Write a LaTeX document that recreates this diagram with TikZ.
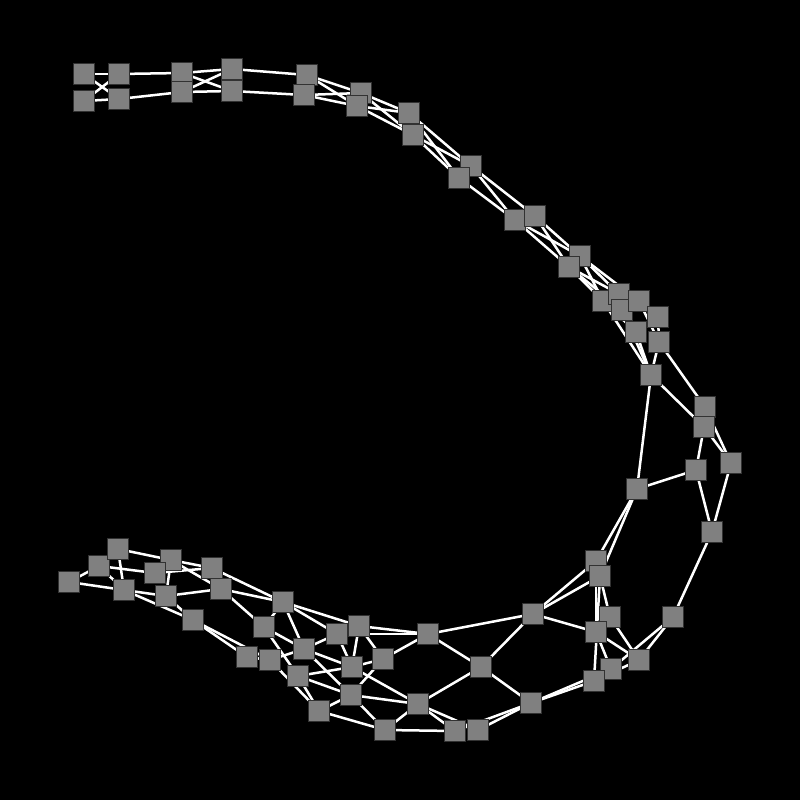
\documentclass[tikz,border=0pt]{standalone}
\usetikzlibrary{backgrounds}
\begin{document}
\begin{tikzpicture}[x=1pt,y=-1pt,
  box/.style={rectangle,fill={rgb,255:red,128;green,128;blue,128},draw={rgb,255:red,50;green,50;blue,50},line width=0.7pt,minimum size=20.5pt,inner sep=0pt,outer sep=0pt},
  edge/.style={draw=white,line width=2.5pt}]
\useasboundingbox (0,0) rectangle (800,800);
% top chain
\node[box] (t1) at (84,74) {};
\node[box] (t2) at (84,101) {};
\node[box] (t3) at (119,74) {};
\node[box] (t4) at (119,99) {};
\node[box] (t5) at (182,73) {};
\node[box] (t6) at (182,92) {};
\node[box] (t7) at (232,69) {};
\node[box] (t8) at (232,91) {};
\node[box] (t9) at (307,75) {};
\node[box] (t10) at (304,95) {};
\node[box] (t11) at (361,93) {};
\node[box] (t12) at (357,106) {};
\node[box] (t13) at (409,113) {};
\node[box] (t14) at (413,135) {};
\node[box] (t15) at (471,166) {};
\node[box] (t16) at (459,178) {};
\node[box] (t17) at (515,220) {};
\node[box] (t18) at (535,216) {};
\node[box] (t19) at (580,256) {};
\node[box] (t20) at (569,267) {};
% right cluster
\node[box] (A) at (603,301) {};
\node[box] (B) at (619,294) {};
\node[box] (C) at (622,310) {};
\node[box] (D) at (639,301) {};
\node[box] (E) at (658,317) {};
\node[box] (F) at (636,332) {};
\node[box] (G) at (659,342) {};
\node[box] (H) at (651,375) {};
\node[box] (I) at (705,407) {};
\node[box] (J) at (704,427) {};
\node[box] (K) at (731,463) {};
\node[box] (L) at (696,470) {};
\node[box] (M) at (637,489) {};
\node[box] (N) at (712,532) {};
% lower right
\node[box] (P) at (596,561) {};
\node[box] (Q) at (600,576) {};
\node[box] (R) at (533,614) {};
\node[box] (S) at (610,617) {};
\node[box] (U) at (596,632) {};
\node[box] (O) at (673,617) {};
\node[box] (X) at (428,634) {};
\node[box] (Y) at (481,667) {};
\node[box] (W) at (639,660) {};
\node[box] (V) at (611,669) {};
\node[box] (T) at (594,681) {};
\node[box] (AA) at (531,703) {};
\node[box] (Z) at (418,704) {};
\node[box] (AC) at (455,731) {};
\node[box] (AB) at (478,730) {};
% lower left
\node[box] (a1) at (69,582) {};
\node[box] (a2) at (99,566) {};
\node[box] (a3) at (118,549) {};
\node[box] (a4) at (124,590) {};
\node[box] (a5) at (171,560) {};
\node[box] (a6) at (155,573) {};
\node[box] (a7) at (166,596) {};
\node[box] (a8) at (212,568) {};
\node[box] (a9) at (221,589) {};
\node[box] (a10) at (193,620) {};
\node[box] (a11) at (283,602) {};
\node[box] (a12) at (264,627) {};
\node[box] (a13) at (247,657) {};
\node[box] (a14) at (270,660) {};
\node[box] (a15) at (304,649) {};
\node[box] (a16) at (337,634) {};
\node[box] (a17) at (359,626) {};
\node[box] (a18) at (383,659) {};
\node[box] (a19) at (352,667) {};
\node[box] (a20) at (298,676) {};
\node[box] (a21) at (351,695) {};
\node[box] (a22) at (319,711) {};
\node[box] (a23) at (385,730) {};
\begin{pgfonlayer}{background}
\fill[black] (0,0) rectangle (800,800);
\foreach \a/\b in {t1/t3,t2/t4,t1/t4,t2/t3,t3/t5,t4/t6,t5/t7,t6/t8,t5/t8,t6/t7,t7/t9,t8/t10,
  t9/t11,t9/t12,t10/t11,t10/t12,t11/t13,t11/t14,t12/t13,t12/t14,t13/t15,t13/t16,t14/t15,t14/t16,
  t15/t17,t15/t18,t16/t17,t17/t19,t17/t20,t18/t19,t18/t20,
  t19/A,t19/B,t19/D,t20/A,t20/C,t20/B,
  A/F,A/H,B/E,C/H,C/F,D/E,D/G,E/G,F/H,G/H,
  G/I,H/J,I/J,I/K,J/K,J/L,L/M,H/M,L/N,K/N,N/O,M/P,M/Q,
  P/R,Q/R,Q/S,P/U,Q/T,R/U,R/X,R/Y,X/Y,Y/Z,Y/AA,Z/a23,a23/AC,Z/AC,Z/AB,AB/AA,AC/AA,AA/T,AA/V,U/V,U/W,O/W,O/V,W/T,S/W,
  a1/a2,a1/a4,a2/a4,a2/a6,a3/a4,a3/a5,a5/a7,a6/a8,a5/a8,a5/a9,a7/a9,a7/a10,a4/a7,a4/a10,
  a8/a11,a9/a11,a9/a12,a10/a13,a10/a14,a11/a12,a11/a15,a11/a16,a11/a17,a12/a15,a12/a20,a14/a15,a13/a14,
  a15/a16,a15/a19,a15/a21,a16/a19,a17/a19,a17/a18,a18/a19,a18/a21,a20/a19,a20/a21,a20/a22,a21/a22,a14/a22,
  a18/X,a16/X,a17/X,a19/Z,a21/Z,a21/a23,a22/a23}
  \draw[edge] (\a.center) -- (\b.center);
\end{pgfonlayer}
\end{tikzpicture}
\end{document}
